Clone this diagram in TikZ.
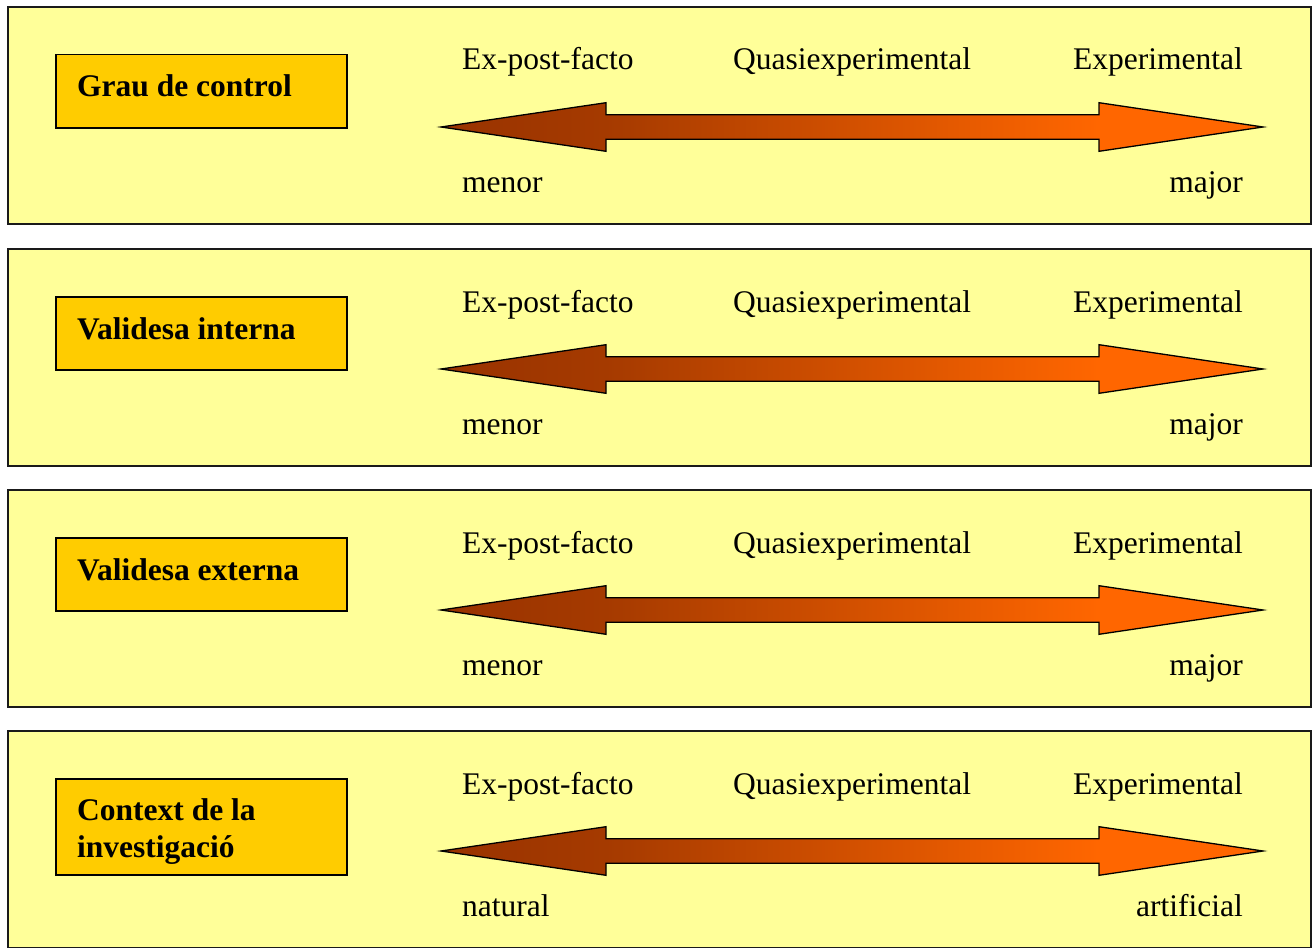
\documentclass[tikz,border=0pt]{standalone}
\usepackage{fontspec}
\setmainfont{Liberation Serif}
\usetikzlibrary{calc}

\definecolor{panelfill}{HTML}{FFFF99}
\definecolor{labelfill}{HTML}{FFCC00}
\definecolor{arrowdark}{HTML}{993300}
\definecolor{arrowmid}{HTML}{A53A00}
\definecolor{arrowlight}{HTML}{FF6600}
\definecolor{frame}{HTML}{1A1A1A}

% the path spans 25bp..75bp of the shading; heads sit in the outer fifths
\pgfdeclarehorizontalshading{scaleshade}{100bp}{%
  color(0bp)=(arrowdark); color(25bp)=(arrowdark); color(35bp)=(arrowmid);
  color(65bp)=(arrowlight); color(100bp)=(arrowlight)}

\tikzset{
  panel/.style={draw=frame, line width=2pt, fill=panelfill, rectangle,
    anchor=north west, minimum width=1303pt, minimum height=217pt, inner sep=0pt},
  labelbox/.style={draw=black, line width=1.5pt, fill=labelfill, rectangle,
    anchor=north west, minimum width=291pt, inner sep=0pt},
  labeltext/.style={font=\fontsize{31.5}{37}\bfseries\selectfont, align=left,
    anchor=base west, inner sep=0pt},
  plain/.style={font=\fontsize{31.5}{37}\selectfont, inner sep=0pt},
  scalearrow/.style={draw=black, line width=1.3pt, shading=scaleshade, line join=miter}
}

\begin{document}
\begin{tikzpicture}[x=1pt, y=-1pt]
  \useasboundingbox (0,0) rectangle (1313,947);
  % \ly: baseline of the last line of the label text, below the panel top
  \foreach \i/\t/\lh/\ly/\lab/\lo/\hi in {
      1/6/73/91/{Grau de control}/menor/major,
      2/248/73/91/{Validesa interna}/menor/major,
      3/489/73/91/{Validesa externa}/menor/major,
      4/730/96/127/{Context de la\\investigació}/natural/artificial} {
    % panel background
    \node[panel] (panel\i) at (7,\t) {};
    % dimension label
    \node[labelbox, minimum height=\lh pt] (box\i) at (55,\t+48) {};
    \node[labeltext] (lab\i) at (77,\t+\ly) {\lab};
    % design names above the scale
    \node[plain, anchor=base west] (epf\i) at (462,\t+64) {Ex-post-facto};
    \node[plain, anchor=base] (quasi\i) at (852,\t+64) {Quasiexperimental};
    \node[plain, anchor=base east] (exp\i) at (1243,\t+64) {Experimental};
    % scale ends below
    \node[plain, anchor=base west] (lo\i) at (462,\t+186) {\lo};
    \node[plain, anchor=base east] (hi\i) at (1243,\t+186) {\hi};
    % double-headed scale arrow
    \coordinate (c\i) at (852,\t+121);
    \path[scalearrow]
      ($(c\i)+(-411,0)$) -- ($(c\i)+(-246,-24.3)$) -- ($(c\i)+(-246,-12.3)$)
      -- ($(c\i)+(247,-12.3)$) -- ($(c\i)+(247,-24.3)$) -- ($(c\i)+(411,0)$)
      -- ($(c\i)+(247,24.3)$) -- ($(c\i)+(247,12.3)$) -- ($(c\i)+(-246,12.3)$)
      -- ($(c\i)+(-246,24.3)$) -- cycle;
  }
\end{tikzpicture}
\end{document}
